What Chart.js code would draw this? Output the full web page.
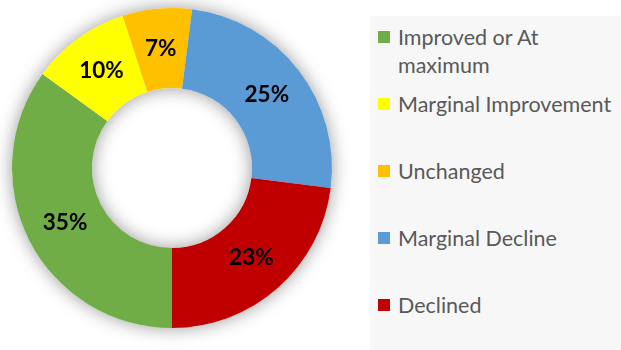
<!DOCTYPE html>
<html>
<head>
<meta charset="utf-8">
<title>Change in status</title>
<script src="https://cdn.jsdelivr.net/npm/chart.js@4/dist/chart.umd.min.js"></script>
<style>
  html, body { margin: 0; padding: 0; background: #fff; }
  #wrap { position: relative; width: 621px; height: 350px; overflow: hidden; }
  #statusChart { position: absolute; left: 0; top: 0; }
  #legend {
    position: absolute; left: 370px; top: 16px; width: 260px; height: 340px;
    background: #f7f7f7; font-family: Lato, "Open Sans", sans-serif;
    font-size: 21.5px; color: #595959;
  }
  #legend .item { position: absolute; left: 8px; white-space: nowrap; line-height: 28px; }
  #legend .box { position: absolute; left: 0; top: 8px; width: 12px; height: 12px; }
  #legend .txt { position: absolute; left: 20px; top: 0; }
</style>
</head>
<body>
<div id="wrap">
  <canvas id="statusChart" width="621" height="350"></canvas>
  <div id="legend"></div>
</div>
<script>
const categories = [['Improved or At', 'maximum'], 'Marginal Improvement', 'Unchanged', 'Marginal Decline', 'Declined'];
const percentages = [35, 10, 7, 25, 23];
const sliceColors = ['#70AD47', '#FFFF00', '#FFC000', '#5B9BD5', '#C00000'];

// soft drop shadow behind the whole ring
const ringShadow = {
  id: 'ringShadow',
  beforeDatasetsDraw(chart) {
    const arc = chart.getDatasetMeta(0).data[0];
    if (!arc) return;
    const { x, y, innerRadius, outerRadius } = arc.getProps(['x', 'y', 'innerRadius', 'outerRadius'], true);
    const ctx = chart.ctx;
    ctx.save();
    ctx.shadowColor = 'rgba(0,0,0,0.4)';
    ctx.shadowBlur = 18;
    ctx.fillStyle = '#ffffff';
    ctx.beginPath();
    ctx.arc(x, y, outerRadius, 0, Math.PI * 2);
    ctx.arc(x, y, innerRadius, 0, Math.PI * 2, true);
    ctx.fill();
    ctx.restore();
  }
};

// percentage labels in the middle of each slice
const sliceLabels = {
  id: 'sliceLabels',
  afterDatasetsDraw(chart) {
    const ctx = chart.ctx;
    const meta = chart.getDatasetMeta(0);
    ctx.save();
    ctx.font = 'bold 22.5px Lato, "Open Sans", sans-serif';
    ctx.fillStyle = '#000';
    ctx.textAlign = 'center';
    ctx.textBaseline = 'middle';
    meta.data.forEach((arc, i) => {
      const p = arc.tooltipPosition();
      ctx.fillText(percentages[i] + '%', p.x, p.y);
    });
    ctx.restore();
  }
};

const chart = new Chart(document.getElementById('statusChart'), {
  type: 'doughnut',
  data: {
    labels: categories,
    datasets: [{
      data: percentages,
      backgroundColor: sliceColors,
      borderWidth: 0
    }]
  },
  options: {
    responsive: false,
    animation: false,
    cutout: '50%',
    rotation: 180,
    layout: { padding: { left: 12, right: 289, top: 8, bottom: 22 } },
    plugins: {
      legend: { display: false },
      tooltip: { enabled: false }
    }
  },
  plugins: [ringShadow, sliceLabels]
});

// legend on the right, one slot per category
const legend = document.getElementById('legend');
categories.forEach((label, i) => {
  const item = document.createElement('div');
  item.className = 'item';
  item.style.top = (7 + i * 67) + 'px';
  const box = document.createElement('span');
  box.className = 'box';
  box.style.background = sliceColors[i];
  const txt = document.createElement('span');
  txt.className = 'txt';
  txt.innerHTML = [].concat(label).join('<br>');
  item.appendChild(box);
  item.appendChild(txt);
  legend.appendChild(item);
});
</script>
</body>
</html>
